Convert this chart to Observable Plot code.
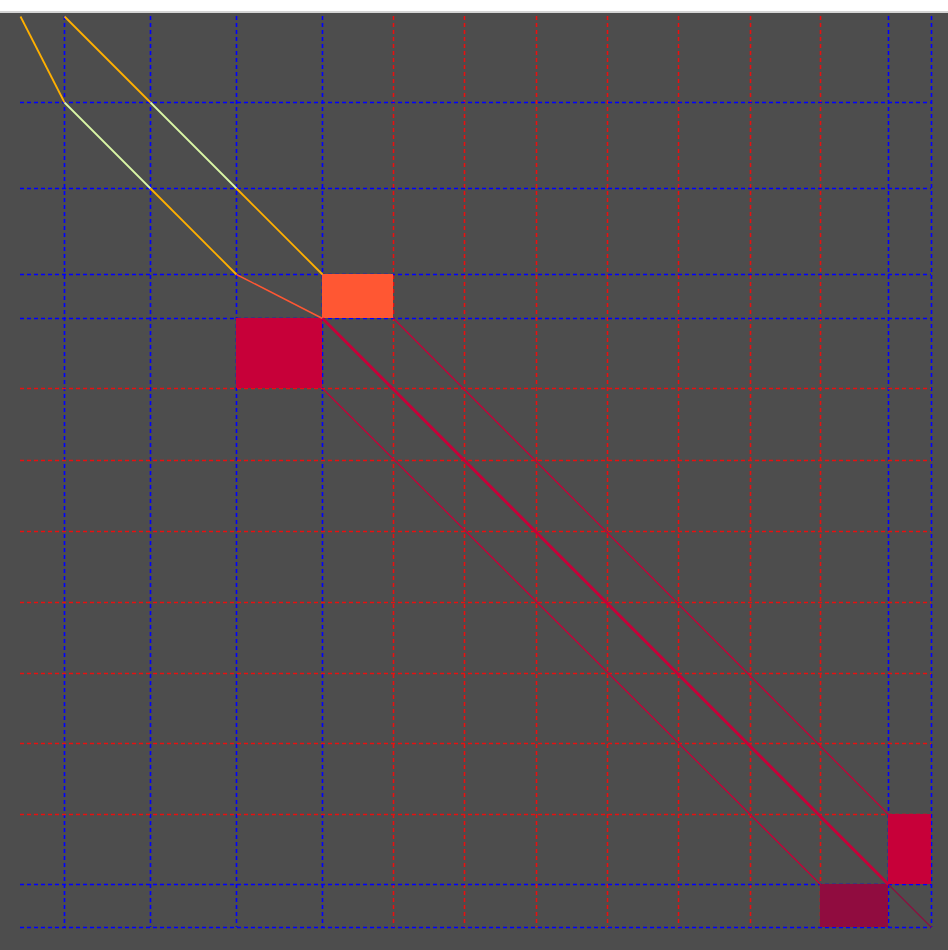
<!DOCTYPE html>
<html>
<head>
<meta charset="utf-8">
<script src="https://cdn.jsdelivr.net/npm/d3@7"></script>
<script src="https://cdn.jsdelivr.net/npm/@observablehq/plot@0.6"></script>
<style>
  html, body { margin: 0; padding: 0; background: #4d4d4d; width: 948px; height: 950px; overflow: hidden; }
  #bar { height: 11px; background: #ffffff; border-bottom: 2px solid #d4d4d4; }
  #chart svg { display: block; background: #4d4d4d; }
</style>
</head>
<body>
<div id="bar"></div>
<div id="chart"></div>
<script>
// Sequence (segment) lengths along each axis
const xLengths = [44, 86, 86, 86, 71, 71, 72, 71, 71, 72, 70, 68, 43];
const yLengths = [86, 86, 86, 44, 70, 72, 71, 71, 71, 70, 71, 70, 43];
// Group of each segment boundary (blue = group A, red = group B)
const xGroups = ["A","A","A","A","B","B","B","B","B","B","B","A","A"];
const yGroups = ["A","A","A","A","B","B","B","B","B","B","B","A","A"];
const groupColors = {A: "#0000ff", B: "#e81010"};

// Alignment segments: [x1, y1, x2, y2, colour, width]
const segX1 = [0, 44, 130, 216, 44, 130, 216, 302, 373, 302, 868];
const segY1 = [0, 86, 172, 258, 0, 86, 172, 302, 302, 372, 868];
const segX2 = [44, 130, 216, 302, 130, 216, 302, 868, 868, 800, 911];
const segY2 = [86, 172, 258, 302, 86, 172, 258, 868, 798, 868, 911];
const segColor = ["#ffb000", "#daf7a6", "#ffb000", "#ff5733", "#ffb000", "#daf7a6", "#ffb000", "#c70039", "#c70039", "#c70039", "#900c3f"];
const segWidth = [1.8, 1.8, 1.8, 1.5, 1.8, 1.8, 1.8, 2.8, 1.3, 1.3, 1.1];

// Filled blocks: x range, y range, colour
const blkX1 = [302, 216, 868, 800];
const blkX2 = [373, 302, 911, 868];
const blkY1 = [258, 302, 798, 868];
const blkY2 = [302, 372, 868, 911];
const blkColor = ["#ff5733", "#c70039", "#c70039", "#900c3f"];

const totalX = d3.sum(xLengths);
const totalY = d3.sum(yLengths);
const xBounds = Array.from(d3.cumsum(xLengths), (v, i) => ({v, c: groupColors[xGroups[i]]}));
const yBounds = Array.from(d3.cumsum(yLengths), (v, i) => ({v, c: groupColors[yGroups[i]]}));
const segs = segX1.map((_, i) => ({x1: segX1[i], y1: segY1[i], x2: segX2[i], y2: segY2[i], c: segColor[i], w: segWidth[i]}));
const blocks = blkX1.map((_, i) => ({x1: blkX1[i], x2: blkX2[i], y1: blkY1[i], y2: blkY2[i], c: blkColor[i]}));

const chart = Plot.plot({
  width: 948,
  height: 937,
  marginLeft: 20,
  marginRight: 17,
  marginTop: 3,
  marginBottom: 23,
  x: {domain: [0, totalX], axis: null},
  y: {domain: [0, totalY], reverse: true, axis: null},
  style: {background: "#4d4d4d"},
  marks: [
    Plot.ruleX(xBounds, {x: "v", y1: 0, y2: totalY, stroke: "c", strokeWidth: 1.6, strokeDasharray: "4,3"}),
    Plot.ruleY(yBounds, {y: "v", x1: 0, x2: totalX, stroke: "c", strokeWidth: 1.6, strokeDasharray: "4,3"}),
    Plot.rect(blocks, {x1: "x1", x2: "x2", y1: "y1", y2: "y2", fill: "c"}),
    Plot.link(segs, {x1: "x1", y1: "y1", x2: "x2", y2: "y2", stroke: "c", strokeWidth: "w"})
  ]
});
document.getElementById("chart").appendChild(chart);
</script>
</body>
</html>
